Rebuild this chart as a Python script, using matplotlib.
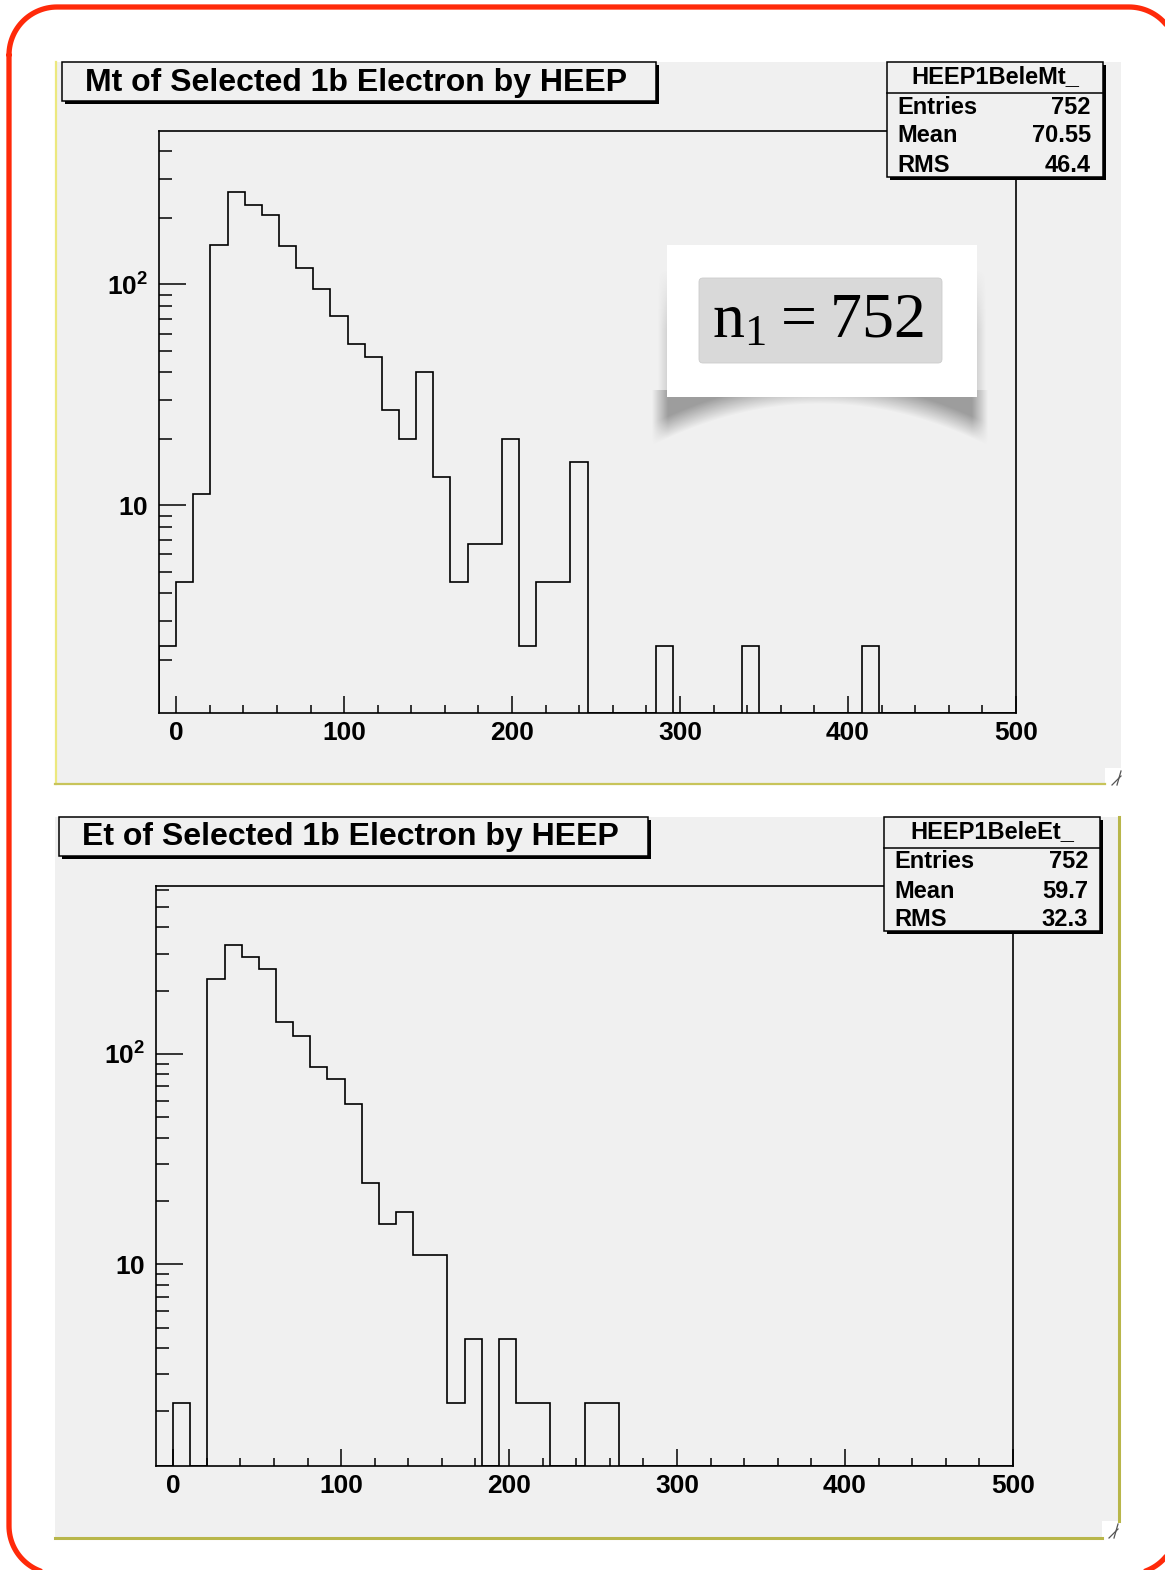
import numpy as np
import matplotlib
matplotlib.use('Agg')
import matplotlib.pyplot as plt
from matplotlib.patches import Rectangle, FancyBboxPatch
from matplotlib.ticker import FixedLocator, FixedFormatter, LogLocator, NullFormatter, MultipleLocator

plt.rcParams['mathtext.fontset'] = 'custom'
plt.rcParams['mathtext.bf'] = 'Liberation Sans:bold'
plt.rcParams['mathtext.rm'] = 'Liberation Sans'

W, H = 1165, 1570

# 50 bins from -10.2 to 500 (ROOT TH1, weighted entries)
edges = np.linspace(-10.2, 500, 51)

mt_counts = [2.3, 4.5, 11.3, 151, 262, 228, 207, 149, 119, 95,
             72, 54, 47, 27, 20, 40, 13.4, 4.5, 6.7, 6.7,
             20, 2.3, 4.5, 4.5, 15.7, 0, 0, 0, 0, 2.3,
             0, 0, 0, 0, 2.3, 0, 0, 0, 0, 0,
             0, 2.3, 0, 0, 0, 0, 0, 0, 0, 0]
et_counts = [0, 2.2, 0, 228, 330, 288, 252, 142, 121, 87,
             76, 58, 24.4, 15.5, 17.7, 11.1, 11.1, 2.2, 4.4, 0,
             4.4, 2.2, 2.2, 0, 0, 2.2, 2.2, 0, 0, 0,
             0, 0, 0, 0, 0, 0, 0, 0, 0, 0,
             0, 0, 0, 0, 0, 0, 0, 0, 0, 0]

titles = ['Mt of Selected 1b Electron by HEEP', 'Et of Selected 1b Electron by HEEP']
hist_names = ['HEEP1BeleMt_', 'HEEP1BeleEt_']
stat_labels = ['Entries', 'Mean', 'RMS']
stat_values = [['752', '70.55', '46.4'], ['752', '59.7', '32.3']]
y_limits = [(1.15, 495), (1.1, 628)]
x_ticks = [0, 100, 200, 300, 400, 500]
y_ticks = [10, 100]
y_ticklabels = [r'$\mathbf{10}$', r'$\mathbf{10^{2}}$']

SANS = 'Liberation Sans'
PANEL = '#f0f0f0'

fig = plt.figure(figsize=(W / 100, H / 100), dpi=100)
fig.patch.set_facecolor('white')


def px_axes(z):
    a = fig.add_axes([0, 0, 1, 1], zorder=z)
    a.set_xlim(0, W)
    a.set_ylim(H, 0)
    a.axis('off')
    a.patch.set_alpha(0)
    return a


bg = px_axes(0)

# red rounded frame around the slide (runs off the right and bottom edges)
r = 48
bx0, by0, bx1, by1 = 9, 7, 1177, 1574
t = np.linspace(0, np.pi / 2, 30)
path_x = np.concatenate([
    bx0 + r - r * np.cos(t), bx1 - r + r * np.sin(t),
    bx1 - r + r * np.cos(t), bx0 + r - r * np.sin(t), [bx0]])
path_y = np.concatenate([
    by0 + r - r * np.sin(t), by0 + r - r * np.cos(t),
    by1 - r + r * np.sin(t), by1 - r + r * np.cos(t), [by0 + r]])
bg.plot(path_x, path_y, color='#ff2a0a', lw=3.8, solid_capstyle='round', clip_on=False)

# panel canvases (x0, y0, x1, y1) in pixels
panels = [(55, 62, 1121, 784), (55, 817, 1119, 1538)]
for (x0, y0, x1, y1) in panels:
    bg.add_patch(Rectangle((x0, y0), x1 - x0, y1 - y0, fc=PANEL, ec='none'))
# canvas edges
bg.plot([55.5, 55.5], [62, 784], color='#ece87e', lw=1.6)
bg.plot([55, 1105], [784, 784], color='#c8c45a', lw=1.6)
bg.plot([1118.5, 1118.5], [817, 1521], color='#b8b64a', lw=2.2)
bg.plot([55, 1102], [1537.5, 1537.5], color='#b8b64a', lw=2.2)
# resize grips
for (gx, gy) in [(1105, 768), (1102, 1521)]:
    bg.add_patch(Rectangle((gx, gy), 18, 18, fc='white', ec='none'))
    for k in (0, 5):
        bg.plot([gx + 7 + k, gx + 16], [gy + 17, gy + 8 - k], color='#555555', lw=0.9)

# plot frames (x0, y0, x1, y1) in pixels
frames = [(159, 131, 1016, 713), (156, 886, 1013, 1466)]
data = [mt_counts, et_counts]

for i, (x0, y0, x1, y1) in enumerate(frames):
    ax = fig.add_axes([x0 / W, 1 - y1 / H, (x1 - x0) / W, (y1 - y0) / H], zorder=1)
    ax.patch.set_alpha(0)
    ax.set_yscale('log')
    ymin, ymax = y_limits[i]
    vals = np.array(data[i], dtype=float)
    ax.stairs(np.where(vals > 0, vals, ymin), edges, baseline=ymin, color='black', lw=1.2)
    ax.set_xlim(edges[0], edges[-1])
    ax.set_ylim(ymin, ymax)
    for s in ax.spines.values():
        s.set_linewidth(1.2)
    ax.xaxis.set_major_locator(FixedLocator(x_ticks))
    ax.xaxis.set_minor_locator(MultipleLocator(20))
    ax.yaxis.set_major_locator(FixedLocator(y_ticks))
    ax.yaxis.set_major_formatter(FixedFormatter(y_ticklabels))
    ax.yaxis.set_minor_locator(LogLocator(base=10, subs=np.arange(2, 10)))
    ax.yaxis.set_minor_formatter(NullFormatter())
    ax.tick_params(axis='x', which='major', direction='in', length=12, width=1.1, pad=6)
    ax.tick_params(axis='x', which='minor', direction='in', length=5.8, width=1.1)
    ax.tick_params(axis='y', which='major', direction='in', length=19.4, width=1.1, pad=8)
    ax.tick_params(axis='y', which='minor', direction='in', length=9.4, width=1.1)
    for lab in ax.get_xticklabels() + ax.get_yticklabels():
        lab.set_fontfamily(SANS)
        lab.set_fontweight('bold')
        lab.set_fontsize(19)

ov = px_axes(3)


def root_box(x0, y0, x1, y1):
    ov.add_patch(Rectangle((x0 + 3, y0 + 3), x1 - x0, y1 - y0, fc='black', ec='none'))
    ov.add_patch(Rectangle((x0, y0), x1 - x0, y1 - y0, fc=PANEL, ec='black', lw=1.1))


# title boxes
title_boxes = [(62, 62, 656, 101), (59, 817, 648, 856)]
for i, (x0, y0, x1, y1) in enumerate(title_boxes):
    root_box(x0, y0, x1, y1)
    ov.text(x0 + 23, (y0 + y1) / 2 + 1, titles[i], family=SANS, weight='bold',
            size=23, ha='left', va='center')

# stats boxes
stat_boxes = [(887, 62, 1103, 177), (884, 817, 1100, 931)]
for i, (x0, y0, x1, y1) in enumerate(stat_boxes):
    root_box(x0, y0, x1, y1)
    ov.plot([x0, x1], [y0 + 31, y0 + 31], color='black', lw=1.1)
    ov.text((x0 + x1) / 2, y0 + 15, hist_names[i], family=SANS, weight='bold',
            size=17, ha='center', va='center')
    for k in range(3):
        yy = y0 + 45 + 29 * k
        ov.text(x0 + 10, yy, stat_labels[k], family=SANS, weight='bold', size=17,
                ha='left', va='center')
        ov.text(x1 - 12, yy, stat_values[i][k], family=SANS, weight='bold', size=17,
                ha='right', va='center')

# n1 call-out with curled paper shadow
sx0, sx1, sy0, sy1 = 652, 988, 240, 455
xs = np.arange(sx0, sx1) + 0.5
ys = np.arange(sy0, sy1) + 0.5
XX, YY = np.meshgrid(xs, ys)
yb = 404 + 38 * ((XX - 820) / 160) ** 2
dark = np.clip((yb - YY) / 22, 0, 1) * (YY > 390)
fade = np.clip((XX - sx0) / 16, 0, 1) * np.clip((sx1 - XX) / 16, 0, 1)
side = (np.clip(1 - np.minimum(np.abs(XX - 667), np.abs(XX - 977)) / 9, 0, 1)
        * np.clip((YY - 270) / 60, 0, 1) * (YY < 400) * 0.22)
shadow = np.zeros(XX.shape + (4,))
shadow[..., :3] = 0.42
shadow[..., 3] = np.maximum(0.62 * dark * fade, side)
ov.imshow(shadow, extent=(sx0, sx1, sy1, sy0), origin='upper', aspect='auto',
          interpolation='bilinear', zorder=1)
ov.add_patch(Rectangle((667, 245), 310, 152, fc='white', ec='none', zorder=2))
ov.add_patch(FancyBboxPatch((699, 278), 243, 85, boxstyle='round,pad=0,rounding_size=4',
                            fc='#d9d9d9', ec='#cccccc', lw=0.6, zorder=3))
ov.text(818, 322, r'$\mathregular{n_1 = 752}$', family='Liberation Serif', size=46,
        ha='center', va='center', zorder=4)
ov.set_xlim(0, W)
ov.set_ylim(H, 0)

fig.savefig('out.png', dpi=100)
